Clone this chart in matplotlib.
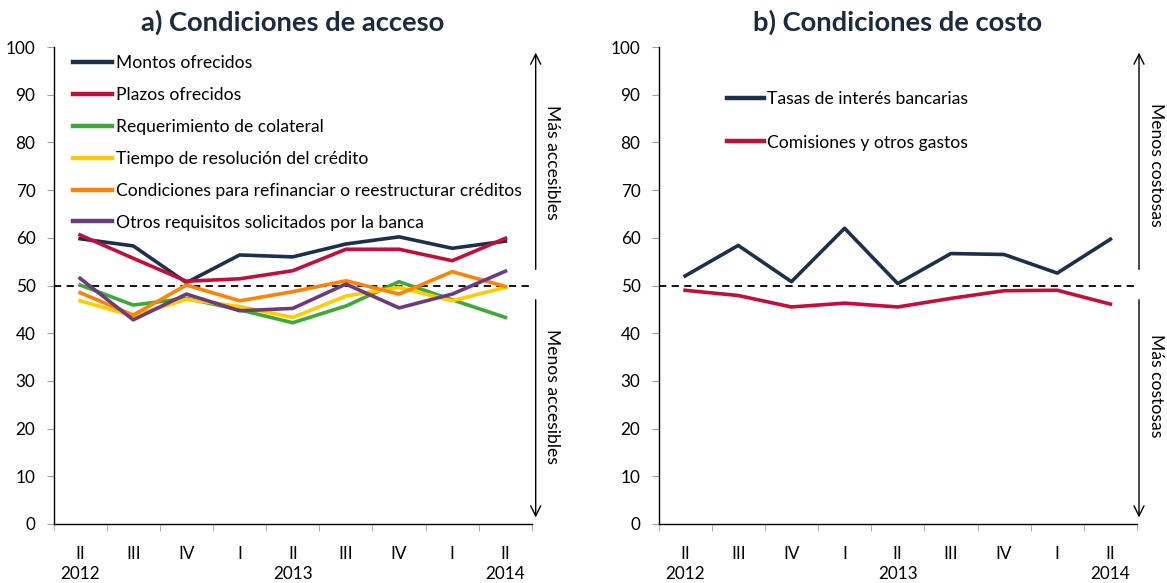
import matplotlib
matplotlib.use("Agg")
import matplotlib.pyplot as plt
from matplotlib.transforms import blended_transform_factory

plt.rcParams['font.family'] = ['Lato', 'DejaVu Sans']

quarters = ["II", "III", "IV", "I", "II", "III", "IV", "I", "II"]
years = {0: "2012", 4: "2013", 8: "2014"}

# Panel a) Condiciones de acceso
montos = [59.8, 58.3, 50.6, 56.4, 56.0, 58.7, 60.2, 57.8, 59.3]
plazos = [60.6, 55.7, 50.9, 51.4, 53.1, 57.6, 57.6, 55.2, 59.9]
colateral = [50.1, 45.9, 47.3, 44.9, 42.2, 45.7, 50.8, 47.0, 43.3]
tiempo = [46.8, 43.6, 47.1, 45.6, 43.3, 47.8, 49.6, 46.8, 49.6]
refinanciar = [48.5, 43.8, 50.1, 46.8, 48.7, 51.0, 48.2, 52.9, 49.8]
otros = [51.5, 42.8, 48.2, 44.7, 45.2, 50.3, 45.3, 48.2, 53.0]

# Panel b) Condiciones de costo
tasas = [52.0, 58.4, 50.8, 62.0, 50.4, 56.7, 56.5, 52.6, 59.7]
comisiones = [49.0, 47.9, 45.5, 46.3, 45.5, 47.3, 48.9, 49.0, 46.1]

series_a = [
    ("Montos ofrecidos", montos, "#1C2F4D"),
    ("Plazos ofrecidos", plazos, "#C40D3A"),
    ("Requerimiento de colateral", colateral, "#3DAA35"),
    ("Tiempo de resolución del crédito", tiempo, "#FFCC00"),
    ("Condiciones para refinanciar o reestructurar créditos", refinanciar, "#FF8200"),
    ("Otros requisitos solicitados por la banca", otros, "#6E3A7E"),
]
series_b = [
    ("Tasas de interés bancarias", tasas, "#1C2F4D"),
    ("Comisiones y otros gastos", comisiones, "#C40D3A"),
]

FS = 12.6
W, H = 1167, 583
fig = plt.figure(figsize=(W / 100, H / 100), dpi=100)

def frac(x0, x1, ytop, ybot):
    return [x0 / W, (H - ybot) / H, (x1 - x0) / W, (ybot - ytop) / H]

ax_a = fig.add_axes(frac(53.5, 532, 47, 524))
ax_b = fig.add_axes(frac(658.5, 1137, 47, 524))

def style(ax, title):
    n = len(quarters)
    ax.set_xlim(-0.5, n - 0.5)
    ax.set_ylim(0, 100)
    ax.set_yticks(range(0, 101, 10))
    ax.tick_params(axis='y', labelsize=12.3, length=5, color='#A0A0A0', pad=8)
    ax.set_xticks(range(n))
    ax.set_xticklabels(quarters, fontsize=12.3)
    ax.tick_params(axis='x', which='major', length=0, pad=16)
    ax.set_xticks([i - 0.5 for i in range(n + 1)], minor=True)
    ax.tick_params(axis='x', which='minor', length=5, color='#A0A0A0')
    for s in ['top', 'right']:
        ax.spines[s].set_visible(False)
    for s in ['left', 'bottom']:
        ax.spines[s].set_color('black')
        ax.spines[s].set_linewidth(1.0)
    ax.axhline(50, color='black', lw=1.3, ls=(0, (4, 3)), zorder=2)
    tr = blended_transform_factory(ax.transData, ax.transAxes)
    for i, y in years.items():
        ax.text(i, -0.105, y, transform=tr, ha='center', va='center', fontsize=12.3)
    ax.set_title(title, fontsize=19.7, fontweight='bold', pad=12, color='#1B2A41')

style(ax_a, "a) Condiciones de acceso")
style(ax_b, "b) Condiciones de costo")

x = list(range(len(quarters)))
for label, vals, c in series_a:
    ax_a.plot(x, vals, color=c, lw=2.6, label=label, zorder=3)
for label, vals, c in series_b:
    ax_b.plot(x, vals, color=c, lw=2.6, label=label, zorder=3)

leg_a = ax_a.legend(loc='upper left', bbox_to_anchor=(0.026, 0.998), frameon=False,
                    fontsize=FS, handlelength=2.25, handletextpad=0.2,
                    labelspacing=0.91, borderaxespad=0)
for h in leg_a.get_lines():
    h.set_linewidth(3.2)
leg_b = ax_b.legend(loc='upper left', bbox_to_anchor=(0.129, 0.922), frameon=False,
                    fontsize=FS, handlelength=2.1, handletextpad=0.2,
                    labelspacing=1.56, borderaxespad=0)
for h in leg_b.get_lines():
    h.set_linewidth(3.2)

def arrows(ax, xa, dx, top_text, top_y, bot_text, bot_y):
    tr = blended_transform_factory(ax.transAxes, ax.transData)
    ax.annotate("", xy=(xa, 99.4), xytext=(xa, 52.8), xycoords=tr, textcoords=tr,
                arrowprops=dict(arrowstyle='->', lw=1.0, color='black',
                                mutation_scale=18), annotation_clip=False)
    ax.annotate("", xy=(xa, 0.8), xytext=(xa, 47.6), xycoords=tr, textcoords=tr,
                arrowprops=dict(arrowstyle='->', lw=1.0, color='black',
                                mutation_scale=18), annotation_clip=False)
    ax.text(xa + dx, top_y, top_text, transform=tr, rotation=-90,
            ha='center', va='center', fontsize=FS, clip_on=False)
    ax.text(xa + dx, bot_y, bot_text, transform=tr, rotation=-90,
            ha='center', va='center', fontsize=FS, clip_on=False)

span = 532 - 53.5
arrows(ax_a, (535.7 - 53.5) / span, 16 / span, "Más accesibles", 75.9, "Menos accesibles", 26.8)
arrows(ax_b, (1139 - 658.5) / span, 17 / span, "Menos costosas", 75.3, "Más costosas", 29.1)

fig.savefig("out.png", dpi=100)
